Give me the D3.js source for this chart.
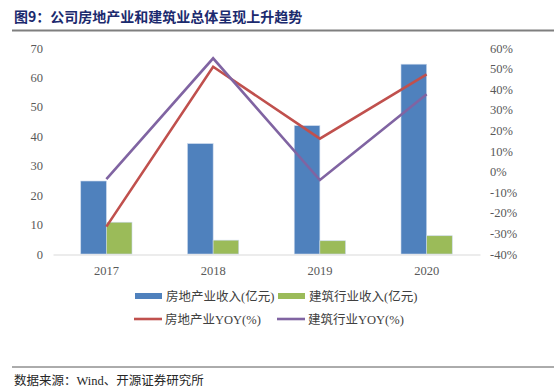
<!DOCTYPE html>
<html><head><meta charset="utf-8">
<script src="https://cdn.jsdelivr.net/npm/d3@7"></script>
<style>body{margin:0;background:#fff}svg{display:block}</style>
</head><body><svg id="c" width="554" height="391"></svg>
<script>
const years = ["2017","2018","2019","2020"];
const realEstateRevenue = [24.8, 37.5, 43.6, 64.5];
const constructionRevenue = [10.8, 4.7, 4.5, 6.2];
const realEstateYoY = [-26.7, 50.9, 16.0, 47.2];
const constructionYoY = [-3.7, 55.0, -4.1, 37.5];
const leftTicks = [0,10,20,30,40,50,60,70];
const rightTicks = [-40,-30,-20,-10,0,10,20,30,40,50,60];
const seriesNames = ["房地产业收入(亿元)","建筑行业收入(亿元)","房地产业YOY(%)","建筑行业YOY(%)"];
const colors = ["#4f81bd","#9bbb59","#c0504d","#8064a2"];

const svg = d3.select("#c");
const serif = "'Liberation Serif','Times New Roman',serif";
const cjk = "'Liberation Serif','Noto Sans CJK SC',serif";

// title
svg.append("text").attr("x",14).attr("y",22).attr("font-family","'Noto Sans CJK SC',sans-serif").attr("font-weight","bold")
  .attr("font-size",14).attr("fill","#1b2a6e").text("图9：公司房地产业和建筑业总体呈现上升趋势");
svg.append("line").attr("x1",12).attr("x2",554).attr("y1",30.5).attr("y2",30.5).attr("stroke","#7f7f7f").attr("stroke-width",2);

const x = d3.scaleBand().domain(years).range([53,480]).paddingInner(0.52).paddingOuter(0.26);
const x1 = d3.scaleBand().domain([0,1]).range([0,x.bandwidth()]);
const yL = d3.scaleLinear().domain([0,70]).range([254,48]);
const yR = d3.scaleLinear().domain([-40,60]).range([254,48]);

// left axis labels
const gl = svg.append("g").attr("transform","translate(43,0)")
  .call(d3.axisLeft(yL).tickValues(leftTicks).tickSize(0).tickPadding(0));
gl.select(".domain").remove();
gl.selectAll("text").attr("font-family",serif).attr("font-size",12.5).attr("fill","#595959");

const gr = svg.append("g").attr("transform","translate(490,0)")
  .call(d3.axisRight(yR).tickValues(rightTicks).tickSize(0).tickPadding(0).tickFormat(d=>d+"%"));
gr.select(".domain").remove();
gr.selectAll("text").attr("font-family",serif).attr("font-size",12.5).attr("fill","#595959");

// bars
const barData = [realEstateRevenue, constructionRevenue];
barData.forEach((arr,si)=>{
  svg.append("g").selectAll("rect").data(arr).join("rect")
    .attr("x",(d,i)=>x(years[i])+x1(si))
    .attr("width",x1.bandwidth())
    .attr("y",d=>yL(d)).attr("height",d=>yL(0)-yL(d))
    .attr("fill",colors[si]).attr("stroke","#c9d8ec").attr("stroke-width",0.6);
});

// x axis
const gx = svg.append("g").attr("transform","translate(0,254.5)")
  .call(d3.axisBottom(x).tickSize(0).tickPadding(12));
gx.select(".domain").attr("stroke","#d9d9d9").attr("stroke-width",1.2);
gx.selectAll("text").attr("font-family",serif).attr("font-size",12.5).attr("fill","#595959");

// lines
const line = d3.line().x((d,i)=>x(years[i])+x.bandwidth()/2).y(d=>yR(d));
[realEstateYoY, constructionYoY].forEach((arr,si)=>{
  svg.append("path").datum(arr).attr("d",line).attr("fill","none")
    .attr("stroke",colors[si+2]).attr("stroke-width",2.6).attr("stroke-linejoin","miter");
});

// legend
const leg = [
  {x:135,y:296,t:"rect"},{x:278,y:296,t:"rect"},
  {x:134,y:319,t:"line"},{x:277,y:319,t:"line"}
];
leg.forEach((l,i)=>{
  if(l.t==="rect"){
    svg.append("rect").attr("x",l.x).attr("y",l.y-3).attr("width",27).attr("height",6).attr("fill",colors[i]);
  } else {
    svg.append("line").attr("x1",l.x).attr("x2",l.x+28).attr("y1",l.y).attr("y2",l.y).attr("stroke",colors[i]).attr("stroke-width",2.6);
  }
  svg.append("text").attr("x",l.x+31).attr("y",l.y+4.5).attr("font-family",cjk).attr("font-size",12.5)
    .attr("fill","#404040").text(seriesNames[i]);
});

// footer
svg.append("line").attr("x1",12).attr("x2",554).attr("y1",367).attr("y2",367).attr("stroke","#595959").attr("stroke-width",1);
svg.append("text").attr("x",14).attr("y",385).attr("font-family",cjk).attr("font-size",12.5).attr("fill","#262626")
  .text("数据来源：Wind、开源证券研究所");
</script></body></html>
